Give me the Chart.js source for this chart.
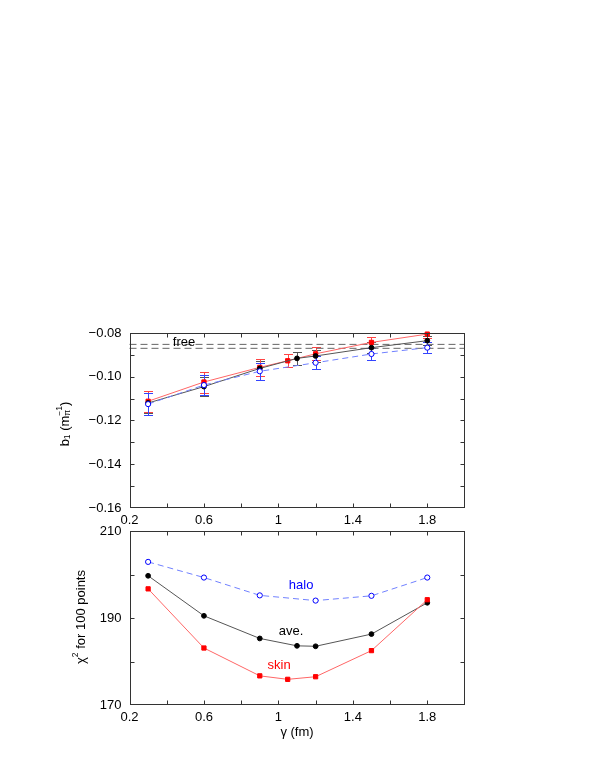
<!DOCTYPE html>
<html>
<head>
<meta charset="utf-8">
<script src="https://cdn.jsdelivr.net/npm/chart.js@4/dist/chart.umd.min.js"></script>
<style>
  html, body { margin: 0; padding: 0; background: #fff; }
  #wrap { position: relative; width: 595px; height: 770px; }
  canvas { position: absolute; left: 0; }
</style>
</head>
<body>
<div id="wrap">
  <canvas id="c1" width="595" height="230" style="top:300px"></canvas>
  <canvas id="c2" width="595" height="260" style="top:510px"></canvas>
</div>
<script>
// ---------------- data ----------------
const gammaSkin = [0.3, 0.6, 0.9, 1.05, 1.2, 1.5, 1.8];
const gammaAve  = [0.3, 0.6, 0.9, 1.1, 1.2, 1.5, 1.8];
const gammaHalo = [0.3, 0.6, 0.9, 1.2, 1.5, 1.8];

const b1Skin    = [-0.1112, -0.1024, -0.0957, -0.0927, -0.0895, -0.0843, -0.0805];
const b1SkinErr = [0.0047, 0.0048, 0.0040, 0.0029, 0.0030, 0.0025, 0.0020];
const b1Ave     = [-0.1120, -0.1045, -0.0962, -0.0916, -0.0905, -0.0867, -0.0835];
const b1AveErr  = [0.0045, 0.0043, 0.0035, 0.0030, 0.0028, 0.0025, 0.0022];
const b1Halo    = [-0.1125, -0.1038, -0.0975, -0.0936, -0.0896, -0.0867];
const b1HaloErr = [0.0050, 0.0045, 0.0040, 0.0030, 0.0026, 0.0026];
const b1Free    = [-0.0852, -0.0870];
const gammaRange = [0.2, 2.0];

const chi2Skin = [196.7, 183.1, 176.7, 175.9, 176.5, 182.5, 194.2];
const chi2Ave  = [199.7, 190.5, 185.3, 183.6, 183.5, 186.3, 193.5];
const chi2Halo = [202.9, 199.3, 195.2, 194.0, 195.1, 199.3];

const b1Range   = [-0.16, -0.08];
const chi2Range = [170, 210];

// ---------------- style ----------------
const FONT = "'Liberation Sans', Arial, Helvetica, sans-serif";
Chart.defaults.font.family = FONT;
Chart.defaults.font.size = 13;
Chart.defaults.color = '#000';
Chart.defaults.animation = false;

const RED = '#ff0000', BLUE = '#0000ff', BLACK = '#000000';
const RED_LINE = '#ff6666', BLUE_LINE = '#7080ff', BLACK_LINE = '#555555';

function pts(xs, ys) { return xs.map((x, i) => ({ x: x, y: ys[i] })); }

function xTickLabel(v) {
  const k = Math.round((v - 0.2) * 10);
  if (k % 4 !== 0) return '';
  const r = Math.round(v * 10) / 10;
  return r === 1 ? '1' : r.toFixed(1);
}

function drawRich(ctx, parts, cx, cy, rot) {
  ctx.save();
  ctx.translate(cx, cy);
  ctx.rotate(rot);
  let w = 0, lastStart = 0;
  const laid = [];
  for (const p of parts) {
    ctx.font = p.size + 'px ' + FONT;
    const pw = ctx.measureText(p.t).width;
    let start;
    if (p.stack) { start = lastStart; w = Math.max(w, start + pw); }
    else { start = w; w += pw; }
    laid.push(Object.assign({}, p, { start: start }));
    lastStart = start;
  }
  ctx.textBaseline = 'middle';
  ctx.textAlign = 'left';
  for (const p of laid) {
    ctx.font = p.size + 'px ' + FONT;
    ctx.fillStyle = p.color || '#000';
    ctx.fillText(p.t, p.start - w / 2, p.dy || 0);
  }
  ctx.restore();
}

// frame + inward ticks on all four sides
const frameTicks = {
  id: 'frameTicks',
  afterDraw(chart) {
    const { ctx, chartArea: a, scales } = chart;
    const L = Math.round(a.left) + 0.5, R = Math.round(a.right) - 0.5;
    const T = Math.round(a.top) + 0.5, B = Math.round(a.bottom) - 0.5;
    ctx.save();
    ctx.strokeStyle = '#333';
    ctx.lineWidth = 1;
    ctx.setLineDash([]);
    ctx.strokeRect(L, T, R - L, B - T);
    const len = 4;
    ctx.beginPath();
    for (const t of scales.x.ticks) {
      const p = Math.round(scales.x.getPixelForValue(t.value)) + 0.5;
      if (p <= L + 1 || p >= R - 1) continue;
      ctx.moveTo(p, B); ctx.lineTo(p, B - len);
      ctx.moveTo(p, T); ctx.lineTo(p, T + len);
    }
    for (const t of scales.y.ticks) {
      const p = Math.round(scales.y.getPixelForValue(t.value)) + 0.5;
      if (p <= T + 1 || p >= B - 1) continue;
      ctx.moveTo(L, p); ctx.lineTo(L + len, p);
      ctx.moveTo(R, p); ctx.lineTo(R - len, p);
    }
    ctx.stroke();
    ctx.restore();
  }
};

// error bars plugin (reads from chart.options.plugins.errbars.sets)
const errBars = {
  id: 'errbars',
  beforeDatasetsDraw(chart, args, opts) {
    const { ctx, chartArea: a, scales: { x, y } } = chart;
    ctx.save();
    ctx.beginPath();
    ctx.rect(a.left, a.top, a.right - a.left, a.bottom - a.top);
    ctx.clip();
    ctx.lineWidth = 1;
    for (const s of (opts.sets || [])) {
      ctx.strokeStyle = s.color;
      ctx.beginPath();
      s.x.forEach((xv, i) => {
        const px = Math.round(x.getPixelForValue(xv)) + 0.5;
        const y1 = Math.round(y.getPixelForValue(s.y[i] + s.err[i])) + 0.5;
        const y2 = Math.round(y.getPixelForValue(s.y[i] - s.err[i])) + 0.5;
        ctx.moveTo(px, y1); ctx.lineTo(px, y2);
        ctx.moveTo(px - 4.5, y1); ctx.lineTo(px + 4.5, y1);
        ctx.moveTo(px - 4.5, y2); ctx.lineTo(px + 4.5, y2);
      });
      ctx.stroke();
    }
    ctx.restore();
  }
};

// text annotations placed in data coordinates + axis titles
const texts = {
  id: 'texts',
  afterDraw(chart, args, opts) {
    const { ctx, scales: { x, y } } = chart;
    ctx.save();
    ctx.font = '13px ' + FONT;
    ctx.textAlign = 'center';
    ctx.textBaseline = 'middle';
    for (const l of (opts.labels || [])) {
      ctx.fillStyle = l.color;
      ctx.fillText(l.text, x.getPixelForValue(l.x), y.getPixelForValue(l.y));
    }
    ctx.restore();
    for (const t of (opts.titles || [])) {
      drawRich(ctx, t.parts, t.cx(chart), t.cy(chart), t.rot);
    }
  }
};

function lineDs(label, xs, ys, lineColor, markColor, opts) {
  return Object.assign({
    label: label,
    data: pts(xs, ys),
    borderColor: lineColor,
    backgroundColor: markColor,
    borderWidth: 1,
    pointRadius: 2.4,
    pointBorderWidth: 1,
    pointBorderColor: markColor,
    pointBackgroundColor: markColor,
    tension: 0,
    showLine: true,
    fill: false,
    clip: false
  }, opts || {});
}

function baseOptions(yMin, yMax, yStep, yCb, padTop, xHeight) {
  return {
    responsive: false,
    maintainAspectRatio: false,
    animation: false,
    events: [],
    layout: { padding: { top: padTop, left: 0, right: 130.5, bottom: 0 } },
    scales: {
      x: {
        type: 'linear', min: gammaRange[0], max: gammaRange[1],
        grid: { display: false, drawTicks: false },
        border: { display: false },
        ticks: { stepSize: 0.2, autoSkip: false, maxRotation: 0, padding: 5, callback: xTickLabel, font: { size: 13 } },
        afterFit(s) { s.height = xHeight; }
      },
      y: {
        type: 'linear', min: yMin, max: yMax,
        grid: { display: false, drawTicks: false },
        border: { display: false },
        ticks: { stepSize: yStep, autoSkip: false, padding: 8, callback: yCb, font: { size: 13 } },
        afterFit(s) { s.width = 129.5; }
      }
    },
    plugins: { legend: { display: false }, tooltip: { enabled: false } }
  };
}

// ---------------- top chart: b1 ----------------
const opt1 = baseOptions(b1Range[0], b1Range[1], 0.01, function (v) {
  const k = Math.round(v * 100);
  if (k % 2 !== 0) return '';
  return (k < 0 ? '\u2212' : '') + Math.abs(k / 100).toFixed(2);
}, 33, 22);
opt1.plugins.errbars = {
  sets: [
    { x: gammaAve,  y: b1Ave,  err: b1AveErr,  color: '#555555' },
    { x: gammaSkin, y: b1Skin, err: b1SkinErr, color: '#ff4444' },
    { x: gammaHalo, y: b1Halo, err: b1HaloErr, color: '#3344ff' }
  ]
};
opt1.plugins.texts = {
  labels: [{ text: 'free', x: 0.493, y: -0.0844, color: '#000' }],
  titles: [{
    parts: [
      { t: 'b', size: 13 }, { t: '1', size: 8.5, dy: 3 },
      { t: ' (m', size: 13 }, { t: '\u03c0', size: 8.5, dy: 3 },
      { t: '\u22121', size: 8.5, dy: -5, stack: true }, { t: ')', size: 13 }
    ],
    cx: () => 65, cy: () => 124, rot: -Math.PI / 2
  }]
};

new Chart(document.getElementById('c1'), {
  type: 'line',
  data: {
    datasets: [
      lineDs('halo', gammaHalo, b1Halo, BLUE_LINE, BLUE, { borderDash: [6, 4], pointBackgroundColor: '#fff', pointRadius: 2.6 }),
      lineDs('ave.', gammaAve, b1Ave, BLACK_LINE, BLACK, {}),
      lineDs('skin', gammaSkin, b1Skin, RED_LINE, RED, { pointStyle: 'rect', pointRadius: 3 }),
      lineDs('free upper', gammaRange, [b1Free[0], b1Free[0]], '#666', '#666', { borderDash: [7, 4], pointRadius: 0 }),
      lineDs('free lower', gammaRange, [b1Free[1], b1Free[1]], '#666', '#666', { borderDash: [7, 4], pointRadius: 0 })
    ]
  },
  options: opt1,
  plugins: [errBars, frameTicks, texts]
});

// ---------------- bottom chart: chi2 ----------------
const opt2 = baseOptions(chi2Range[0], chi2Range[1], 10, function (v) {
  return (Math.round(v) % 20 === 10) ? String(Math.round(v)) : '';
}, 21, 65);
opt2.plugins.texts = {
  labels: [
    { text: 'halo', x: 1.122, y: 197.4, color: BLUE },
    { text: 'ave.', x: 1.068, y: 186.8, color: BLACK },
    { text: 'skin', x: 1.004, y: 179.0, color: RED }
  ],
  titles: [
    {
      parts: [
        { t: '\u03c7', size: 13 }, { t: '2', size: 8.5, dy: -5 },
        { t: ' for 100 points', size: 13 }
      ],
      cx: () => 81, cy: () => 107, rot: -Math.PI / 2
    },
    {
      parts: [{ t: '\u03b3 (fm)', size: 13 }],
      cx: (c) => (c.chartArea.left + c.chartArea.right) / 2, cy: () => 222, rot: 0
    }
  ]
};

new Chart(document.getElementById('c2'), {
  type: 'line',
  data: {
    datasets: [
      lineDs('skin', gammaSkin, chi2Skin, RED_LINE, RED, { pointStyle: 'rect', pointRadius: 3 }),
      lineDs('ave.', gammaAve, chi2Ave, BLACK_LINE, BLACK, {}),
      lineDs('halo', gammaHalo, chi2Halo, BLUE_LINE, BLUE, { borderDash: [6, 4], pointBackgroundColor: '#fff', pointRadius: 2.6 })
    ]
  },
  options: opt2,
  plugins: [frameTicks, texts]
});
</script>
</body>
</html>
